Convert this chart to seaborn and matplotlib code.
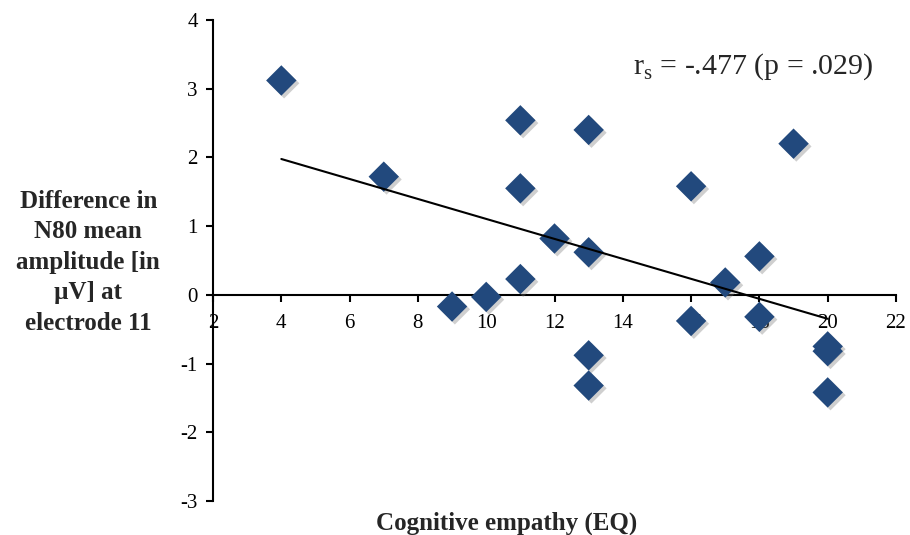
import numpy as np
import pandas as pd
import seaborn as sns
import matplotlib
matplotlib.use("Agg")
import matplotlib.pyplot as plt
import matplotlib.patheffects as pe

# Cognitive empathy score (EQ) and N80 amplitude difference per participant
eq_score = [4, 7, 9, 10, 11, 11, 11, 12, 13, 13, 13, 13, 16, 16, 17, 18, 18, 19, 20, 20, 20]
n80_diff = [3.12, 1.72, -0.17, -0.03, 0.23, 1.55, 2.54, 0.82, 0.62, 2.40, -0.88, -1.32,
            1.58, -0.38, 0.18, 0.56, -0.32, 2.20, -0.75, -0.82, -1.42]

x_ticks = [2, 4, 6, 8, 10, 12, 14, 16, 18, 20, 22]
y_ticks = [-3, -2, -1, 0, 1, 2, 3, 4]

df = pd.DataFrame({"eq": eq_score, "diff": n80_diff})

sns.set_theme(style="white")
plt.rcParams["font.family"] = ["Liberation Serif", "DejaVu Serif"]

fig = plt.figure(figsize=(9.10, 5.35), dpi=100)
ax = fig.add_axes([0.2341, 0.0636, 0.7505, 0.8990])

marker_color = "#22497d"
shadow = [pe.SimplePatchShadow(offset=(2, -2), shadow_rgbFace="#777777", alpha=0.35),
          pe.Normal()]

sns.regplot(data=df, x="eq", y="diff", ax=ax, ci=None, truncate=True,
            marker="D",
            scatter_kws={"s": 240, "color": marker_color, "edgecolor": "none",
                         "alpha": 1, "path_effects": shadow, "zorder": 3},
            line_kws={"color": "black", "lw": 1.5, "zorder": 4})

ax.set_xlim(2, 22)
ax.set_ylim(-3, 4)
ax.set_xticks(x_ticks)
ax.set_yticks(y_ticks)
ax.set_xticklabels([str(v) for v in x_ticks])
ax.set_yticklabels([str(v) for v in y_ticks])

for side in ("top", "right"):
    ax.spines[side].set_visible(False)
ax.spines["bottom"].set_position(("data", 0))
for side in ("left", "bottom"):
    ax.spines[side].set_color("black")
    ax.spines[side].set_linewidth(1.5)

ax.tick_params(axis="both", which="major", direction="out", length=5, width=1.5,
               color="black", labelsize=15, labelcolor="black")
ax.tick_params(axis="x", pad=9)
ax.tick_params(axis="y", pad=6)
ax.tick_params(left=True, bottom=True)

ax.set_xlabel("")
ax.set_ylabel("")
fig.text(0.557, 0.022, "Cognitive empathy (EQ)", ha="center", va="center",
         fontsize=18, fontweight="bold")
fig.text(0.097, 0.51, "Difference in\nN80 mean\namplitude [in\nµV] at\nelectrode 11",
         ha="center", va="center", fontsize=18, fontweight="bold", linespacing=1.42)

ax.text(14.3, 3.32, r"r$_\mathregular{s}$ = -.477 (p = .029)", fontsize=21.5,
        ha="left", va="center")

fig.savefig("out.png", dpi=100)
